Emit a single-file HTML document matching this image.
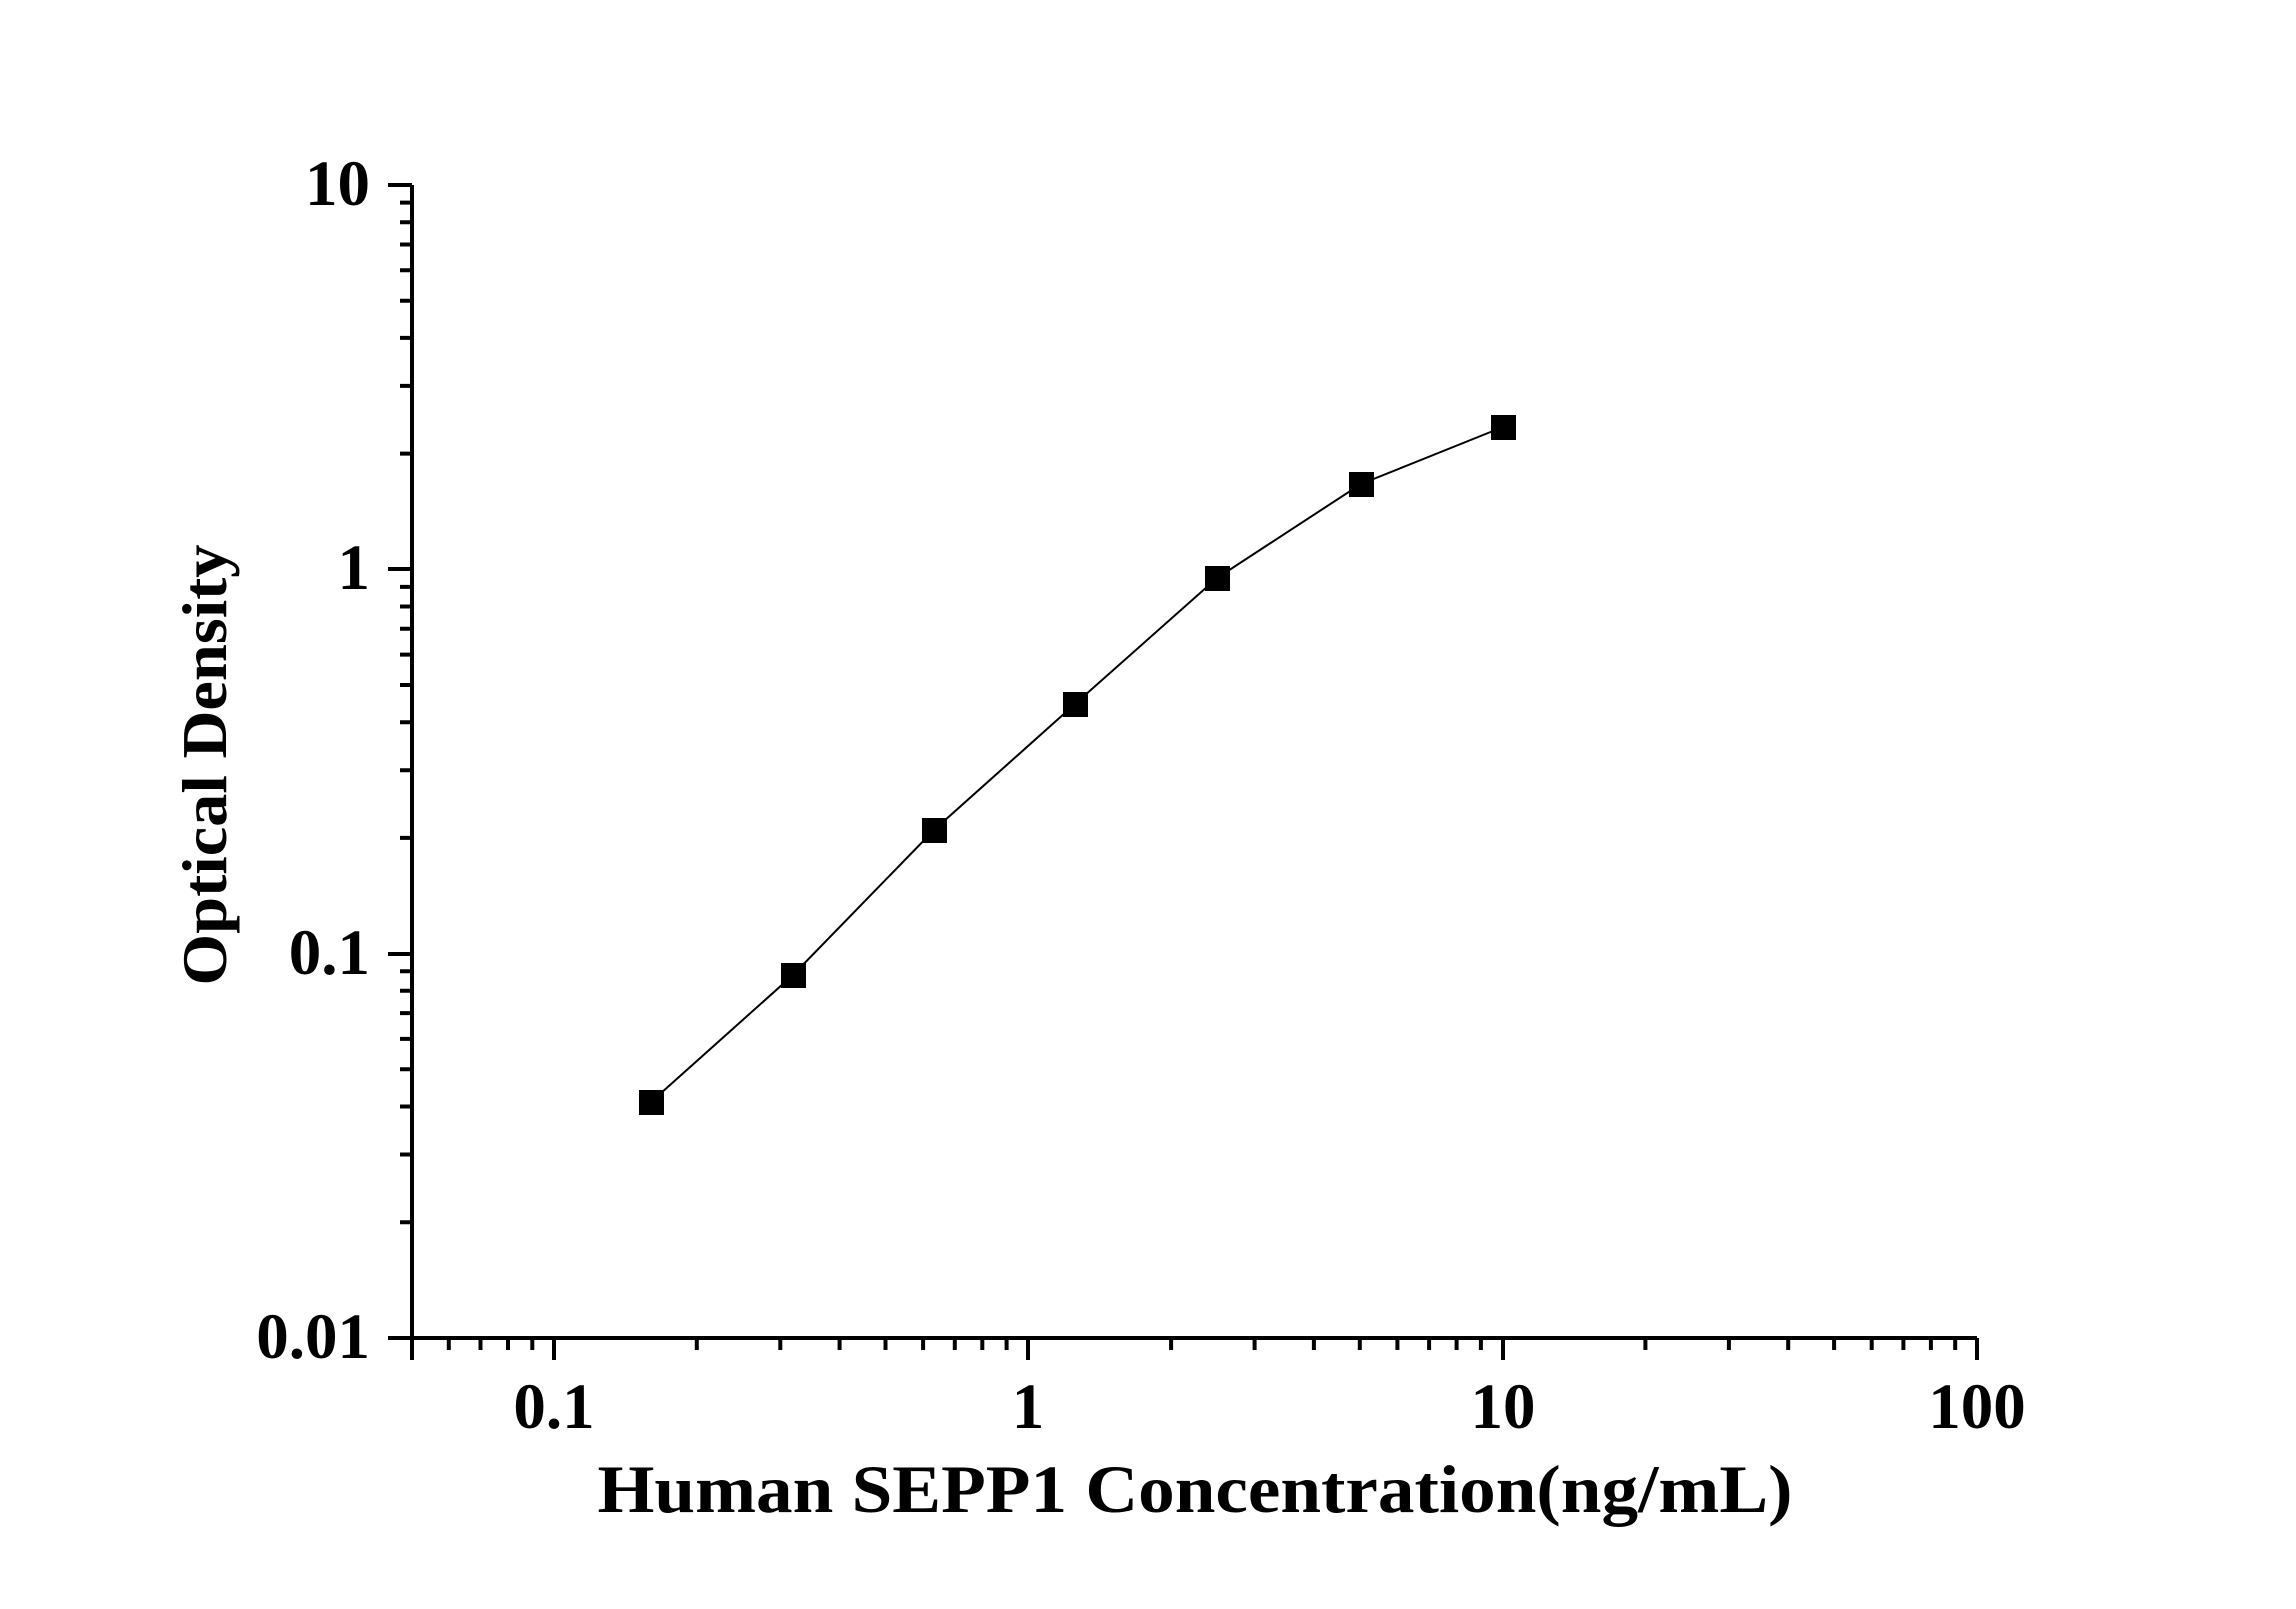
<!DOCTYPE html>
<html><head><meta charset="utf-8"><style>body{margin:0;background:#fff}</style></head>
<body>
<svg width="2296" height="1604" xmlns="http://www.w3.org/2000/svg" font-family="Liberation Serif, serif" font-weight="bold">
<rect width="2296" height="1604" fill="#fff"/>
<g stroke="#000" stroke-width="4" fill="none">
<path d="M412,185 V1338 H1977"/>
<path d="M388,185H412 M388,569H412 M388,954H412 M388,1338H412"/>
<path d="M412,1338V1360 M554,1338V1360 M1028,1338V1360 M1503,1338V1360 M1977,1338V1360"/>
</g>
<g stroke="#000" stroke-width="4" id="minor"></g>
<polyline fill="none" stroke="#000" stroke-width="2" points="651,1102 793,975 934,830 1075,704 1217,578 1361,484 1503,427"/>
<g fill="#000">
<rect x="639" y="1090" width="25" height="25"/>
<rect x="781" y="963" width="25" height="25"/>
<rect x="922" y="818" width="25" height="25"/>
<rect x="1063" y="692" width="25" height="25"/>
<rect x="1205" y="566" width="25" height="25"/>
<rect x="1349" y="472" width="25" height="25"/>
<rect x="1491" y="415" width="25" height="25"/>
</g>
<g font-size="65" fill="#000">
<text x="370" y="205" text-anchor="end">10</text>
<text x="370" y="589" text-anchor="end">1</text>
<text x="370" y="974" text-anchor="end">0.1</text>
<text x="370" y="1358" text-anchor="end">0.01</text>
<text x="554" y="1428" text-anchor="middle">0.1</text>
<text x="1028" y="1428" text-anchor="middle">1</text>
<text x="1503" y="1428" text-anchor="middle">10</text>
<text x="1977" y="1428" text-anchor="middle">100</text>
</g>
<text x="1195" y="1512" font-size="68" text-anchor="middle" textLength="1195" lengthAdjust="spacingAndGlyphs">Human SEPP1 Concentration(ng/mL)</text>
<text transform="translate(226,765) rotate(-90)" font-size="64" text-anchor="middle" textLength="441" lengthAdjust="spacingAndGlyphs">Optical Density</text>
<script>
var g=document.getElementById('minor'),s='';
for(var d=0;d<3;d++)for(var k=2;k<=9;k++){var y=185+384.3*d+384.3*(1-Math.log10(k));s+='M400,'+y.toFixed(1)+'H412 ';}
for(var d=-2;d<2;d++)for(var k=2;k<=9;k++){var x=554+474.3*(d+1)+474.3*Math.log10(k);if(x>412&&x<1977)s+='M'+x.toFixed(1)+',1338V1350 ';}
var p=document.createElementNS('http://www.w3.org/2000/svg','path');p.setAttribute('d',s);g.appendChild(p);
</script>
</svg>
</body></html>
